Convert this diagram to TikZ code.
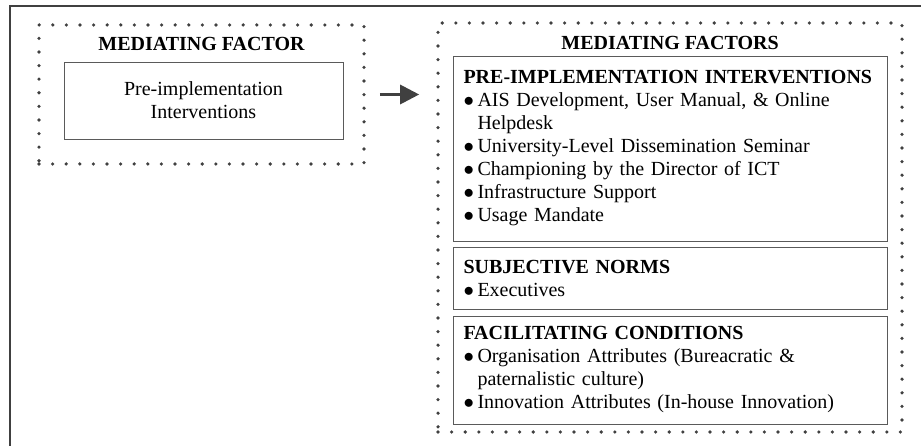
\documentclass[tikz,border=0pt]{standalone}
\usepackage{fontspec}
\setmainfont{Liberation Serif}
\usetikzlibrary{arrows.meta}
\definecolor{trait}{HTML}{404040}
\definecolor{bord}{HTML}{5A5A5A}
\newcommand{\puce}{\makebox[14pt][l]{$\bullet$}}
\newcommand{\entete}[1]{\textbf{\mbox{#1}}}

\begin{document}
\begin{tikzpicture}[x=1pt, y=-1pt]
			\tikzset{texte/.style={font=\fontsize{20}{23}\selectfont, text=black},
				pointille/.style={draw=trait, line width=3.6pt, line cap=round, dash pattern=on 0pt off 13.6pt, inner sep=0pt},
				boite/.style={texte, draw=bord, line width=0.9pt, inner sep=0pt},
				liste/.style={boite, align=left, text width=413pt, inner xsep=10.5pt},
				fleche/.style={-{Triangle[length=19pt, width=19pt]}, draw=trait, line width=3pt}};

			\useasboundingbox (0,0) rectangle (921,446);
			\draw[trait, line width=2pt] (10,470) -- (10,6) -- (940,6);

			\node[pointille, minimum width=325pt, minimum height=139pt] (gauche) at (201.5, 94.5) {};
			\node[pointille, minimum width=464pt, minimum height=409pt] (droite) at (670, 227.5) {};

			\node[texte, font=\fontsize{20}{23}\selectfont\bfseries] (titreg) at (201.5, 44) {MEDIATING FACTOR};
			\node[texte, font=\fontsize{20}{23}\selectfont\bfseries] (titred) at (670,   43) {MEDIATING FACTORS};

			\node[boite, align=center, minimum width=279pt, minimum height=77pt] (pre) at (203.5, 100.5)
				{Pre-implementation\\ Interventions};

			\node[liste, minimum height=185pt] (interv) at (670, 148.5)
				{\entete{PRE-IMPLEMENTATION INTERVENTIONS}\\
				 \puce AIS Development, User Manual, \& Online\\
				 \hspace*{14pt}Helpdesk\\
				 \puce University-Level Dissemination Seminar\\
				 \puce Championing by the Director of ICT\\
				 \puce Infrastructure Support\\
				 \puce Usage Mandate};
			\node[liste, minimum height=62pt] (normes) at (670, 278)
				{\entete{SUBJECTIVE NORMS}\\
				 \puce Executives};
			\node[liste, minimum height=108pt] (condit) at (670, 370)
				{\entete{FACILITATING CONDITIONS}\\
				 \puce Organisation Attributes (Bureacratic \&\\
				 \hspace*{14pt}paternalistic culture)\\
				 \puce Innovation Attributes (In-house Innovation)};

			\draw[fleche, shorten <=14pt, shorten >=17pt] (gauche.east) -- (gauche.east -| droite.west);

		\end{tikzpicture}
\end{document}
